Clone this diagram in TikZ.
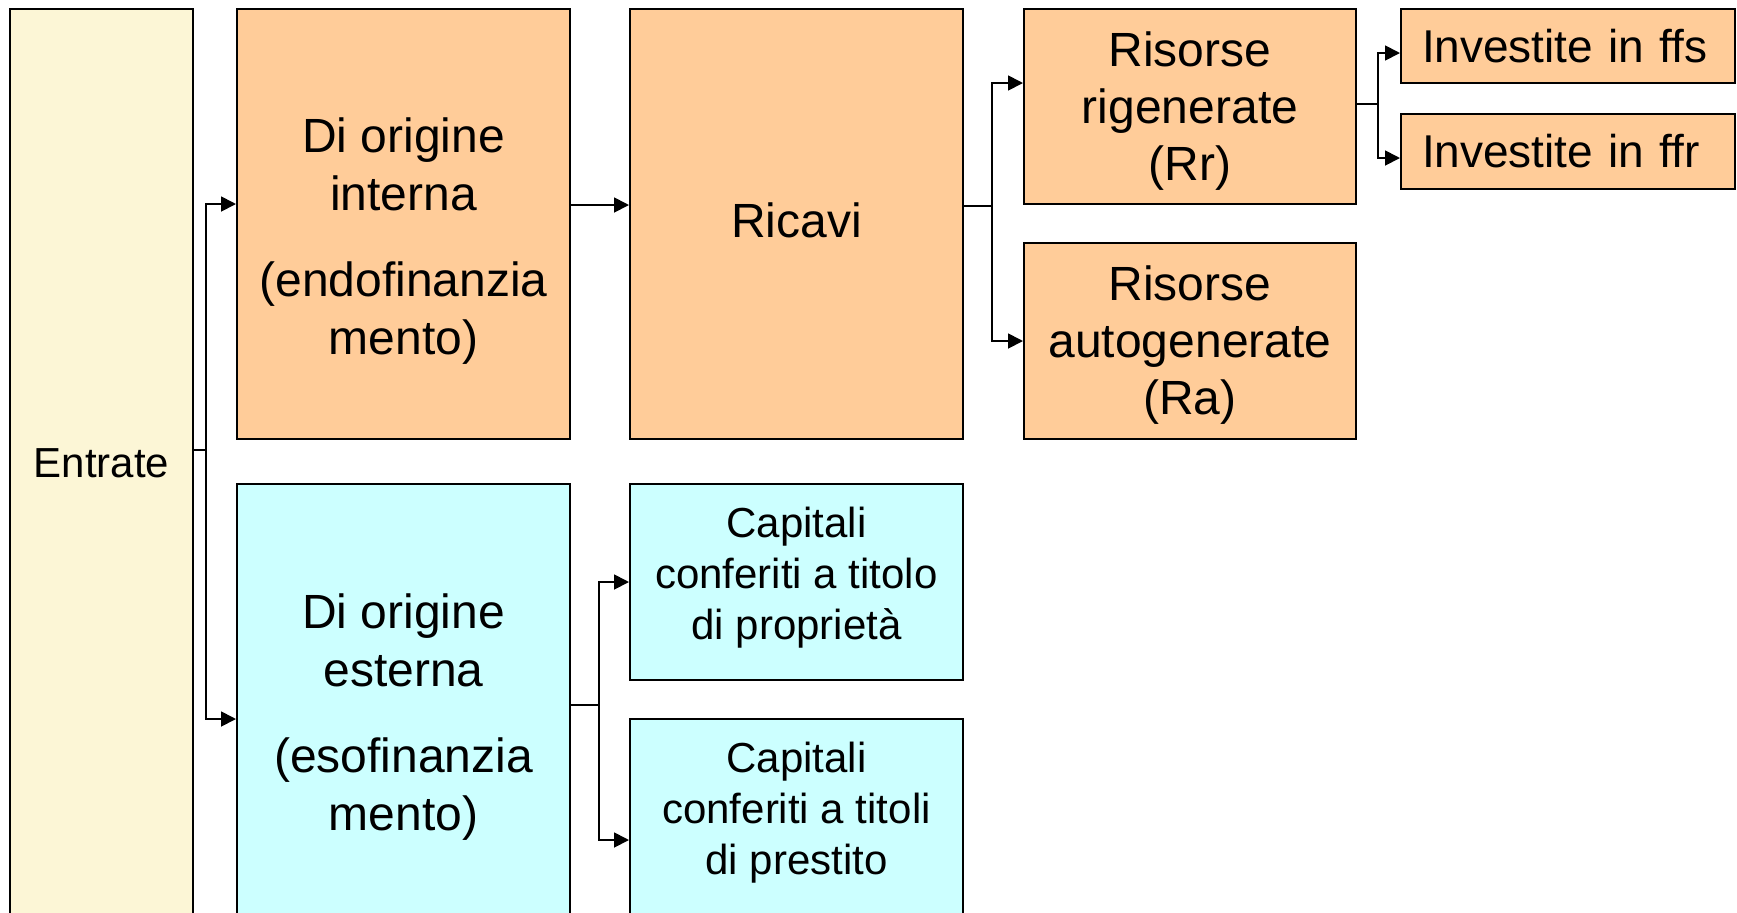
\documentclass[tikz,border=0pt]{standalone}
\usepackage{fontspec}
\setmainfont{Liberation Sans}
\usetikzlibrary{positioning, arrows.meta}
\definecolor{entcol}{HTML}{FCF6D6}
\definecolor{orcol}{HTML}{FFCC99}
\definecolor{cycol}{HTML}{CCFFFF}

\begin{document}
\begin{tikzpicture}[x=0.5pt,y=-0.5pt,
  blk/.style={draw,line width=1pt,inner sep=0pt,align=center,font=\fontsize{24}{29}\selectfont},
  smallblk/.style={blk,font=\fontsize{21}{25.5}\selectfont},
  leftblk/.style={draw,line width=1pt,inner ysep=0pt,inner xsep=10.5pt,text width=146pt,align=left,font=\fontsize{23}{28}\selectfont},
  conn/.style={line width=0.9pt},
  arrconn/.style={conn,-{Triangle[length=7.5pt,width=7.5pt]}}]
\useasboundingbox (0,0) rectangle (1737,912);
\clip (0,0) rectangle (1737,912);
% boxes
\node[smallblk,fill=entcol,minimum width=91.5pt,minimum height=454pt] (entrate) at (101.5,463) {Entrate};
\node[blk,fill=orcol,minimum width=166.5pt,minimum height=215pt] (interna) at (403.5,224) {\rule{0pt}{34pt}Di origine\\interna\\[14pt](endofinanzia\\mento)};
\node[blk,fill=cycol,minimum width=166.5pt,minimum height=229pt] (esterna) at (403.5,713) {\rule{0pt}{21.6pt}Di origine\\esterna\\[14pt](esofinanzia\\mento)};
\node[blk,fill=orcol,minimum width=166.5pt,minimum height=215pt] (ricavi) at (796.5,224) {Ricavi\rule[-4.4pt]{0pt}{4.4pt}};
\node[blk,fill=orcol,font=\fontsize{24}{28.5}\selectfont,minimum width=166pt,minimum height=97.5pt] (rigen) at (1190,106.5) {\rule{0pt}{21.6pt}Risorse\\rigenerate\\(Rr)};
\node[blk,fill=orcol,font=\fontsize{24}{28.5}\selectfont,minimum width=166pt,minimum height=98pt] (autogen) at (1190,341) {\rule{0pt}{21.6pt}Risorse\\autogenerate\\(Ra)};
\node[leftblk,fill=orcol,minimum height=37pt] (ffs) at (1568,46) {Investite in ffs};
\node[leftblk,fill=orcol,minimum height=37.5pt] (ffr) at (1568,151.5) {Investite in ffr};
\node[smallblk,fill=cycol,minimum width=166.5pt,minimum height=98pt] (proprieta) at (796.5,582) {Capitali\\conferiti a titolo\\di proprietà\rule[-8.8pt]{0pt}{8.8pt}};
\node[smallblk,fill=cycol,minimum width=166.5pt,minimum height=99pt] (prestito) at (796.5,818) {Capitali\\conferiti a titoli\\di prestito\rule[-9.9pt]{0pt}{9.9pt}};
% connectors
\coordinate (s1) at (206,450);
\draw[conn] (entrate.east |- s1) -- (s1);
\draw[arrconn] (s1) |- ([yshift=10pt]interna.west);
\draw[arrconn] (s1) |- ([yshift=-3pt]esterna.west);
\draw[arrconn] ([yshift=9.5pt]interna.east) -- ([yshift=9.5pt]ricavi.west);
\coordinate (s2) at (992,206);
\draw[conn] (ricavi.east |- s2) -- (s2);
\draw[arrconn] (s2) |- ([yshift=11.75pt]rigen.west);
\draw[arrconn] (s2) |- (autogen.west);
\coordinate (s3) at (1378,104);
\draw[conn] (rigen.east |- s3) -- (s3);
\draw[arrconn] (s3) |- ([yshift=-3.5pt]ffs.west);
\draw[arrconn] (s3) |- ([yshift=-3.25pt]ffr.west);
\coordinate (s4) at (599,705);
\draw[conn] (esterna.east |- s4) -- (s4);
\draw[arrconn] (s4) |- (proprieta.west);
\draw[arrconn] (s4) |- ([yshift=-11pt]prestito.west);
\end{tikzpicture}
\end{document}
